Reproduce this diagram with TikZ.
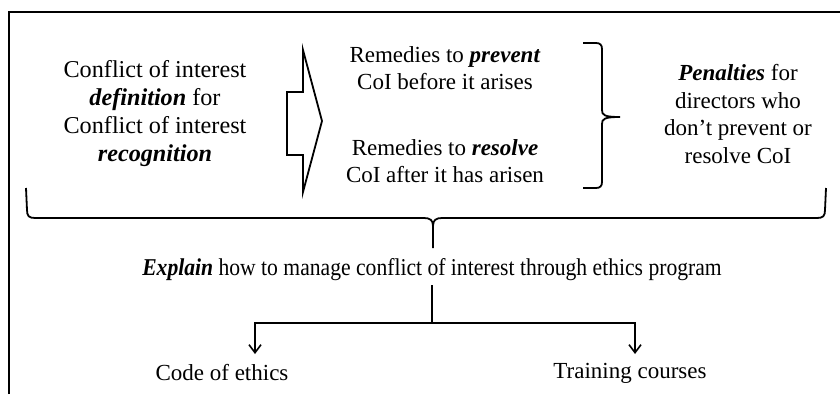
\documentclass[tikz,border=0pt]{standalone}
\usepackage{fontspec}
\setmainfont{Liberation Serif}
\usetikzlibrary{arrows.meta}
\begin{document}
\begin{tikzpicture}[x=1pt,y=-1pt,
  txt/.style={align=center,inner sep=0pt,font=\fontsize{23}{27.5}\selectfont},
  bigtxt/.style={txt,font=\fontsize{24.2}{28}\selectfont},
  ln/.style={line width=1.8pt},
  arr/.style={ln,-{Straight Barb[length=8pt,width=12pt,line width=1.6pt]}}]
\useasboundingbox (0,0) rectangle (840,394);
% frame (cropped)
\draw[ln] (9,394) -- (9,12) -- (841,12);
% left text
\node[bigtxt] (def) at (155,114) {Conflict of interest\\\textbf{\textit{definition}} for\\Conflict of interest\\\textbf{\textit{recognition}}};
% block arrow
\draw[ln,line join=miter] (287,92) -- (303,92) -- (303,50) -- (322,121) -- (303,192) -- (303,155) -- (287,155) -- cycle;
% middle texts
\node[txt] (prev) at (445,68) {Remedies to \textbf{\textit{prevent}}\\CoI before it arises};
\node[txt] (res) at (445,161) {Remedies to \textbf{\textit{resolve}}\\CoI after it has arisen};
% small right brace
\draw[ln] (583,43) -- (596,43) .. controls (600,43) and (602,45) .. (602,49) -- (602,110)
  .. controls (602,115) and (604,117) .. (620,117)
  .. controls (604,117) and (602,119) .. (602,124) -- (602,182)
  .. controls (602,186) and (600,188) .. (596,188) -- (583,188);
% right text
\node[txt] (pen) at (738,114) {\textbf{\textit{Penalties}} for\\directors who\\don’t prevent or\\resolve CoI};
% large brace
\draw[ln] (26,188) -- (27,210) .. controls (27,216) and (29,218) .. (35,218) -- (424,218)
  .. controls (430,218) and (433,220) .. (433,226) -- (433,248);
\draw[ln] (433,226) .. controls (433,220) and (436,218) .. (442,218) -- (817,218)
  .. controls (823,218) and (825,216) .. (825,210) -- (826,188);
% explain
\node[txt] (exp) at (432,270) {\scalebox{0.94}[1.05]{\textbf{\textit{Explain}} how to manage conflict of interest through ethics program}};
\coordinate (j) at (432,323);
\node[txt] (code) at (222,373) {Code of ethics};
\node[txt] (train) at (630,373) {Training courses};
\coordinate (ca) at (255,354);
\coordinate (ta) at (635,354);
\draw[ln] (exp.south |- 0,285) -- (j);
\draw[arr] (j) -| (ca);
\draw[arr] (j) -| (ta);
\end{tikzpicture}
\end{document}
